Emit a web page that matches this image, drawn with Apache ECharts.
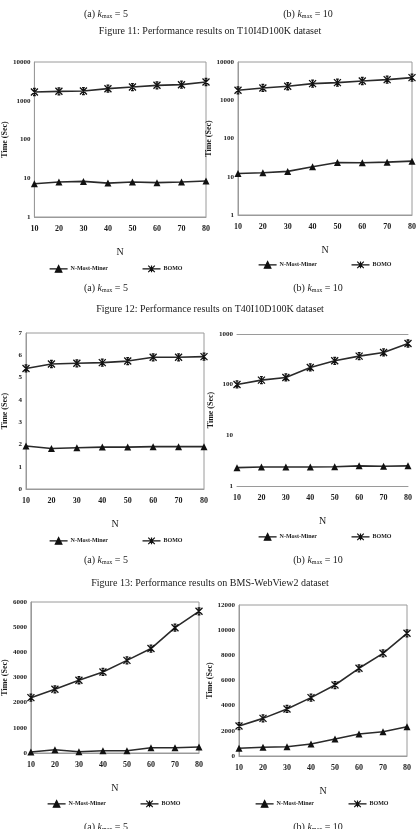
<!DOCTYPE html>
<html>
<head>
<meta charset="utf-8">
<script src="https://cdn.jsdelivr.net/npm/echarts@6/dist/echarts.min.js"></script>
<style>
html,body{margin:0;padding:0;background:#fff;}
#c{width:419px;height:829px;}
</style>
</head>
<body>
<div id="c"></div>
<script>
// ---- data ----
const N = [10, 20, 30, 40, 50, 60, 70, 80];
const seriesNames = ['N-Most-Miner', 'BOMO'];
// Figure 11 (T10I4D100K), log scale
const f11a_nmm  = [7.2, 8.0, 8.3, 7.5, 8.0, 7.7, 8.0, 8.5];
const f11a_bomo = [1680, 1750, 1780, 2050, 2260, 2500, 2600, 3050];
const f11b_nmm  = [12.2, 12.7, 13.8, 18.2, 23.6, 23.2, 24.1, 25.6];
const f11b_bomo = [1820, 2100, 2320, 2720, 2890, 3190, 3460, 3900];
// Figure 12 (T40I10D100K)
const f12a_nmm  = [1.93, 1.82, 1.85, 1.88, 1.88, 1.90, 1.90, 1.90];
const f12a_bomo = [5.41, 5.61, 5.64, 5.67, 5.74, 5.91, 5.91, 5.94];
const f12b_nmm  = [2.3, 2.37, 2.37, 2.37, 2.4, 2.5, 2.45, 2.5];
const f12b_bomo = [101, 123, 139, 219, 296, 366, 433, 650];
// Figure 13 (BMS-WebView2)
const f13a_nmm  = [40, 130, 50, 90, 90, 210, 210, 240];
const f13a_bomo = [2200, 2530, 2890, 3220, 3680, 4150, 4980, 5630];
const f13b_nmm  = [610, 690, 740, 950, 1350, 1750, 1930, 2330];
const f13b_bomo = [2380, 2990, 3740, 4640, 5640, 6970, 8160, 9750];

const captionsA = '(a) {k|k}{s|max} = 5';
const captionsB = '(b) {k|k}{s|max} = 10';
const figTitles = [
  'Figure 11: Performance results on T10I4D100K dataset',
  'Figure 12: Performance results on T40I10D100K dataset',
  'Figure 13: Performance results on BMS-WebView2 dataset'
];

// ---- styles ----
const FONT = '"Liberation Serif","DejaVu Serif",serif';
const INK = '#1a1a1a';
const FRAME = '#9a9a9a';

const grids = [
  {left: 28,  top: 62,  width: 178, height: 155, show: true},
  {left: 238, top: 62,  width: 174, height: 153, show: true},
  {left: 26,  top: 333, width: 178, height: 156, show: true},
  {left: 237, top: 334, width: 171, height: 152, show: false},
  {left: 30,  top: 602, width: 169, height: 151, show: true},
  {left: 239, top: 605, width: 168, height: 151, show: true}
].map(g => Object.assign(g, {borderColor: FRAME, borderWidth: 1, containLabel: false}));

const yCfg = [
  {type: 'log', min: 1, max: 10000, nameGap: 19},
  {type: 'log', min: 1, max: 10000, nameGap: 19},
  {type: 'value', min: 0, max: 7, interval: 1, nameGap: 17},
  {type: 'log', min: 1, max: 1000, nameGap: 20},
  {type: 'value', min: 0, max: 6000, interval: 1000, nameGap: 21},
  {type: 'value', min: 0, max: 12000, interval: 2000, nameGap: 23}
];

const xAxes = grids.map((g, i) => ({
  type: 'category', gridIndex: i, data: N, boundaryGap: false,
  name: 'N', nameLocation: 'middle', nameGap: 30,
  nameTextStyle: {fontFamily: FONT, fontSize: 10, color: INK},
  axisLine: {show: true, lineStyle: {color: FRAME, width: 1}},
  axisTick: {show: false},
  axisLabel: {fontFamily: FONT, fontSize: 8, fontWeight: 'bold', color: INK, margin: 8},
  splitLine: {show: false}
}));
// top frame line for the middle-right chart
xAxes.push({
  type: 'category', gridIndex: 3, data: N, boundaryGap: false, position: 'top',
  axisLine: {show: true, lineStyle: {color: FRAME, width: 1}},
  axisTick: {show: false}, axisLabel: {show: false}, splitLine: {show: false}
});

const yAxes = yCfg.map((c, i) => ({
  type: c.type, gridIndex: i, min: c.min, max: c.max, interval: c.interval,
  logBase: 10,
  name: 'Time (Sec)', nameLocation: 'middle', nameGap: c.nameGap, nameRotate: 90,
  nameTextStyle: {fontFamily: FONT, fontSize: 8, fontWeight: 'bold', color: INK},
  axisLine: {show: i === 3 ? false : true, lineStyle: {color: FRAME}},
  axisTick: {show: false},
  axisLabel: {fontFamily: FONT, fontSize: 7, fontWeight: 'bold', color: INK, margin: 4,
    formatter: v => String(Math.round(v))},
  splitLine: {show: false}
}));

const data = [
  [f11a_nmm, f11a_bomo], [f11b_nmm, f11b_bomo],
  [f12a_nmm, f12a_bomo], [f12b_nmm, f12b_bomo],
  [f13a_nmm, f13a_bomo], [f13b_nmm, f13b_bomo]
];

const starPath = 'path://M0,0L10,10M10,0L0,10M5,0L5,10M3,0L7,0M3,10L7,10';
const series = [];
data.forEach((pair, i) => {
  series.push({
    name: seriesNames[0], type: 'line', xAxisIndex: i, yAxisIndex: i,
    data: pair[0], symbol: 'triangle', symbolSize: 7,
    lineStyle: {color: '#2a2a2a', width: 1.6},
    itemStyle: {color: '#111'}, animation: false
  });
  series.push({
    name: seriesNames[1], type: 'line', xAxisIndex: i, yAxisIndex: i,
    data: pair[1], symbol: starPath, symbolSize: 7,
    lineStyle: {color: '#2a2a2a', width: 1.6},
    itemStyle: {color: '#111', borderColor: '#111', borderWidth: 1.3}, animation: false
  });
});

const legendIcons = [
  'path://M0,5L22,5M11,1L15,9L7,9Z',
  'path://M0,5L22,5M7,1L15,9M15,1L7,9M11,1L11,9'
];
const legendPos = [
  {left: 44, top: 260}, {left: 253, top: 256},
  {left: 44, top: 532}, {left: 253, top: 528},
  {left: 42, top: 795}, {left: 250, top: 795}
];
const legends = legendPos.map(p => ({
  left: p.left, top: p.top,
  data: seriesNames.map((n, k) => ({name: n, icon: legendIcons[k]})),
  itemGap: 34, itemWidth: 18, itemHeight: 7, selectedMode: false,
  itemStyle: {color: '#111', borderColor: '#111', borderWidth: 1.2},
  textStyle: {fontFamily: FONT, fontSize: 6, fontWeight: 'bold', color: INK, padding: [0, 0, 0, -2]}
}));

const rich = {
  k: {fontFamily: FONT, fontSize: 10, fontStyle: 'italic', fill: INK},
  s: {fontFamily: FONT, fontSize: 6, fill: INK, padding: [5, 0, 0, 0]}
};
function caption(text, x, y) {
  return {type: 'text', x: x, y: y, style: {
    text: text, font: '10px ' + FONT, fill: INK, align: 'center', verticalAlign: 'middle', rich: rich
  }, silent: true};
}
function fig(text, y) {
  return {type: 'text', x: 210, y: y, style: {
    text: text, font: '10px ' + FONT, fill: INK, align: 'center', verticalAlign: 'middle'
  }, silent: true};
}
const graphics = [
  caption(captionsA, 106, 14), caption(captionsB, 308, 14),
  fig(figTitles[0], 31),
  caption(captionsA, 106, 288), caption(captionsB, 318, 288),
  fig(figTitles[1], 309),
  caption(captionsA, 106, 560), caption(captionsB, 318, 560),
  fig(figTitles[2], 583),
  caption(captionsA, 106, 827), caption(captionsB, 318, 827)
];

const chart = echarts.init(document.getElementById('c'), null, {renderer: 'canvas'});
chart.setOption({
  backgroundColor: '#ffffff',
  animation: false,
  grid: grids,
  xAxis: xAxes,
  yAxis: yAxes,
  legend: legends,
  series: series,
  graphic: graphics
});
</script>
</body>
</html>
